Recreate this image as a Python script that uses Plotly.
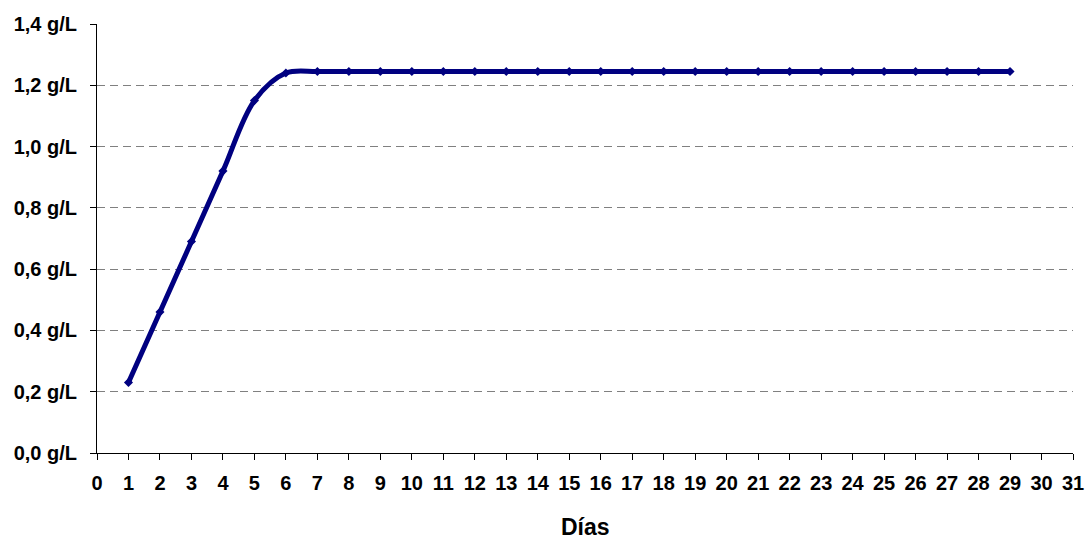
import plotly.graph_objects as go

# Daily concentration readings (g/L)
dias = list(range(1, 30))
concentracion = [0.23, 0.46, 0.69, 0.92, 1.15, 1.24] + [1.245] * 23

y_ticks = [0.0, 0.2, 0.4, 0.6, 0.8, 1.0, 1.2, 1.4]
y_labels = ["0,0 g/L", "0,2 g/L", "0,4 g/L", "0,6 g/L", "0,8 g/L", "1,0 g/L", "1,2 g/L", "1,4 g/L"]
x_ticks = list(range(0, 32))

NAVY = "#000080"
FONT = "Liberation Sans, Arial, sans-serif"

fig = go.Figure()
fig.add_trace(go.Scatter(
    x=dias,
    y=concentracion,
    mode="lines+markers",
    line=dict(color=NAVY, width=5, shape="spline", smoothing=1.0),
    marker=dict(symbol="diamond", size=7, color=NAVY),
    showlegend=False,
    hoverinfo="x+y",
))

# x-axis title placed below the tick labels
fig.add_annotation(
    text="Días",
    xref="paper", yref="paper",
    x=0.5, y=-0.1725,
    xanchor="center", yanchor="middle",
    showarrow=False,
    font=dict(family=FONT, size=23, color="black", weight="bold"),
)

fig.update_layout(
    width=1087,
    height=541,
    margin=dict(l=97, r=14, t=24, b=88),
    paper_bgcolor="white",
    plot_bgcolor="white",
    font=dict(family=FONT, color="black"),
    xaxis=dict(
        range=[0, 31],
        tickvals=x_ticks,
        ticktext=[str(v) for v in x_ticks],
        showgrid=False,
        zeroline=False,
        showline=True,
        linecolor="black",
        linewidth=1,
        ticks="outside",
        ticklen=6,
        tickcolor="black",
        tickfont=dict(family=FONT, size=20, color="black", weight="bold"),
        ticklabelstandoff=6,
        automargin=False,
    ),
    yaxis=dict(
        range=[0, 1.4],
        tickvals=y_ticks,
        ticktext=y_labels,
        showgrid=True,
        gridcolor="#808080",
        gridwidth=1,
        griddash="8px,5px",
        zeroline=False,
        showline=True,
        linecolor="black",
        linewidth=1,
        ticks="outside",
        ticklen=6,
        tickcolor="black",
        tickfont=dict(family=FONT, size=20, color="black", weight="bold"),
        ticklabelstandoff=9,
        automargin=False,
    ),
)

fig.write_html("out.html")
